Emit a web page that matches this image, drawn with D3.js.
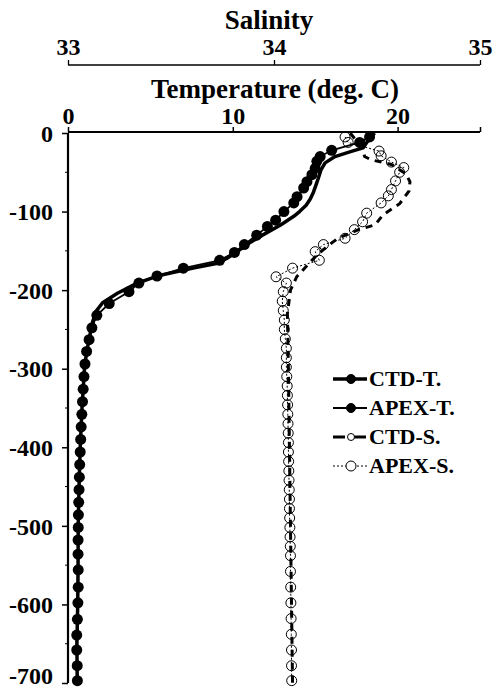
<!DOCTYPE html>
<html>
<head>
<meta charset="utf-8">
<script src="https://cdn.jsdelivr.net/npm/d3@7"></script>
<style>
  html, body { margin: 0; padding: 0; background: #fff; }
  svg text { font-family: "Liberation Serif", "Times New Roman", serif; font-weight: bold; fill: #000; }
</style>
</head>
<body>
<svg id="chart" width="494" height="690"></svg>
<script>
// CTD temperature profile (depth in m, temperature in deg C)
const ctdTDepth = [0, 3, 10, 19, 24, 30, 38, 47, 57, 66, 75, 84, 92, 100, 106, 117, 130, 140, 152, 160, 166, 172, 181, 191, 204, 216, 227, 240, 260, 280, 300, 350, 400, 450, 500, 550, 600, 650, 700];
const ctdT = [18.6, 18.5, 18.2, 17.9, 17.1, 16.2, 15.6, 15.35, 15.2, 15.05, 14.9, 14.7, 14.45, 14.05, 13.7, 12.9, 11.8, 11.0, 10.2, 9.6, 9.0, 7.6, 5.6, 4.2, 3.0, 2.1, 1.7, 1.5, 1.3, 1.12, 1.0, 0.85, 0.74, 0.67, 0.62, 0.61, 0.59, 0.54, 0.56];

// APEX float temperature samples
const apexTDepth = [5, 12, 22, 30, 36, 45, 53, 62, 70, 81, 89, 100, 111, 119, 130, 142, 152, 162, 172, 182, 191, 202, 217, 232, 248, 263, 278, 294, 310, 326, 342, 358, 374, 390, 406, 422, 438, 454, 470, 486, 502, 518, 536, 556, 578, 598, 619, 639, 658, 678, 697];
const apexT = [18.3, 17.7, 16.0, 15.3, 15.1, 15.0, 14.8, 14.5, 14.3, 13.9, 13.7, 13.1, 12.6, 12.1, 11.45, 10.7, 10.1, 9.2, 7.0, 5.4, 4.3, 3.7, 2.5, 1.75, 1.45, 1.28, 1.13, 1.03, 0.97, 0.92, 0.88, 0.84, 0.80, 0.77, 0.74, 0.71, 0.69, 0.67, 0.65, 0.63, 0.62, 0.61, 0.61, 0.62, 0.62, 0.60, 0.57, 0.53, 0.53, 0.56, 0.57];

// CTD salinity profile
const ctdSDepth = [0, 10, 20, 30, 34, 40, 52, 62, 74, 90, 104, 117, 123, 134, 145, 155, 166, 183, 200, 230, 300, 400, 500, 600, 700];
const ctdS = [34.37, 34.40, 34.43, 34.44, 34.47, 34.57, 34.64, 34.66, 34.655, 34.61, 34.53, 34.49, 34.41, 34.31, 34.255, 34.21, 34.17, 34.11, 34.08, 34.065, 34.07, 34.075, 34.08, 34.085, 34.09];

// APEX float salinity samples
const apexSDepth = [5, 12, 23, 29, 37, 44, 50, 61, 72, 80, 89, 102, 113, 123, 134, 142, 151, 162, 172, 183, 191, 202, 214, 226, 238, 250, 262, 274, 286, 298, 310, 322, 334, 346, 358, 370, 382, 394, 406, 418, 430, 442, 454, 466, 478, 490, 502, 514, 526, 538, 558, 578, 598, 618, 638, 658, 678, 697];
const apexS = [34.345, 34.36, 34.51, 34.52, 34.57, 34.63, 34.61, 34.59, 34.57, 34.555, 34.52, 34.45, 34.43, 34.39, 34.345, 34.24, 34.20, 34.22, 34.09, 34.01, 34.06, 34.045, 34.04, 34.045, 34.05, 34.05, 34.055, 34.06, 34.06, 34.06, 34.062, 34.064, 34.065, 34.066, 34.067, 34.068, 34.069, 34.07, 34.07, 34.071, 34.072, 34.073, 34.074, 34.075, 34.075, 34.076, 34.077, 34.078, 34.079, 34.08, 34.08, 34.081, 34.082, 34.083, 34.084, 34.085, 34.085, 34.086];

// Axis ticks
const depthTicks = [0, -100, -200, -300, -400, -500, -600, -700];
const depthMinorTicks = [-50, -150, -250, -350, -450, -550, -650];
const tempTicks = [0, 10, 20, 25];
const tempTickLabels = ["0", "10", "20", ""];
const salTicks = [33, 34, 35];
const salTickLabels = ["33", "34", "35"];

const legendLabels = ["CTD-T.", "APEX-T.", "CTD-S.", "APEX-S."];

const svg = d3.select("#chart");
const plotLeft = 68, plotRight = 480, plotTop = 133, plotBottom = 683;

const x = d3.scaleLinear().domain([0, 25]).range([plotLeft, plotRight]);
const xs = d3.scaleLinear().domain([33, 35]).range([plotLeft, plotRight]);
const y = d3.scaleLinear().domain([0, -700]).range([plotTop, plotBottom]);

// --- axes ---
const yAxis = svg.append("g").attr("transform", `translate(${plotLeft},0)`)
  .call(d3.axisLeft(y).tickValues(depthTicks).tickSize(6).tickPadding(9).tickFormat(d => String(d)));
yAxis.append("g").selectAll("line").data(depthMinorTicks).join("line")
  .attr("x1", -3).attr("x2", 0).attr("y1", d => y(d)).attr("y2", d => y(d))
  .attr("stroke", "#000").attr("stroke-width", 1);
// the bottom label sits against the lower edge, so it is nudged up a little
yAxis.selectAll(".tick text").style("font-size", "24px")
  .attr("dy", d => d === -700 ? "0.02em" : "0.34em");

const tAxis = svg.append("g").attr("transform", `translate(0,${plotTop - 1})`)
  .call(d3.axisTop(x).tickValues(tempTicks).tickSize(5).tickPadding(3)
    .tickFormat((d, i) => tempTickLabels[i]));
tAxis.selectAll("text").style("font-size", "24px");

const sAxis = svg.append("g").attr("transform", "translate(0,65)")
  .call(d3.axisTop(xs).tickValues(salTicks).tickSize(5).tickPadding(5)
    .tickFormat((d, i) => salTickLabels[i]));
sAxis.selectAll("text").style("font-size", "24px");

[yAxis, tAxis].forEach(g => {
  g.select(".domain").attr("stroke-width", 2.2);
  g.selectAll(".tick line").attr("stroke-width", 1.5);
});
sAxis.select(".domain").attr("stroke-width", 1.6);
sAxis.selectAll(".tick line").attr("stroke-width", 1.3);
// plain axis lines without end caps
yAxis.select(".domain").attr("d", `M0,${plotTop}V${plotBottom}`);
tAxis.select(".domain").attr("d", `M${plotLeft},0H${plotRight}`);
sAxis.select(".domain").attr("d", `M${plotLeft},0H${plotRight}`);

// axis titles
svg.append("text").attr("x", 269).attr("y", 29).attr("text-anchor", "middle")
  .style("font-size", "27px").text("Salinity");
svg.append("text").attr("x", 275).attr("y", 98).attr("text-anchor", "middle")
  .style("font-size", "27px").text("Temperature (deg. C)");

// --- series ---
const plot = svg.append("g");

const lineT = d3.line().x(d => x(d[1])).y(d => y(-d[0]));
const lineS = d3.line().x(d => xs(d[1])).y(d => y(-d[0]));

const ctdTPts = d3.zip(ctdTDepth, ctdT);
const apexTPts = d3.zip(apexTDepth, apexT);
const ctdSPts = d3.zip(ctdSDepth, ctdS);
const apexSPts = d3.zip(apexSDepth, apexS);

// CTD salinity: thick dashed line
plot.append("path").datum(ctdSPts).attr("d", lineS)
  .attr("fill", "none").attr("stroke", "#000").attr("stroke-width", 3)
  .attr("stroke-dasharray", "7,6");

// APEX salinity: thin dotted line with open circles
plot.append("path").datum(apexSPts).attr("d", lineS)
  .attr("fill", "none").attr("stroke", "#000").attr("stroke-width", 1)
  .attr("stroke-dasharray", "2,2");
plot.append("g").selectAll("circle").data(apexSPts).join("circle")
  .attr("cx", d => xs(d[1])).attr("cy", d => y(-d[0])).attr("r", 5)
  .attr("fill", "none").attr("stroke", "#000").attr("stroke-width", 1);

// CTD temperature: thick solid line
plot.append("path").datum(ctdTPts).attr("d", lineT)
  .attr("fill", "none").attr("stroke", "#000").attr("stroke-width", 3.5)
  .attr("stroke-linejoin", "round");

// APEX temperature: line with filled dots
plot.append("path").datum(apexTPts).attr("d", lineT)
  .attr("fill", "none").attr("stroke", "#000").attr("stroke-width", 1.8);
plot.append("g").selectAll("circle").data(apexTPts).join("circle")
  .attr("cx", d => x(d[1])).attr("cy", d => y(-d[0])).attr("r", 5.5)
  .attr("fill", "#000");

// --- legend ---
const legendStyles = [
  { w: 3.5, dash: null, fill: "#000", r: 4.5 },
  { w: 2, dash: null, fill: "#000", r: 4.5 },
  { w: 3, dash: "12,9", fill: "#fff", r: 3.5 },
  { w: 1, dash: "2,2", fill: "#fff", r: 5 }
];
const legend = svg.append("g").attr("transform", "translate(333,379)");
const rows = legend.selectAll("g").data(legendLabels).join("g")
  .attr("transform", (d, i) => `translate(0,${i * 29})`);
rows.append("line").attr("x1", 0).attr("x2", 34).attr("y1", 0).attr("y2", 0)
  .attr("stroke", "#000").attr("stroke-width", (d, i) => legendStyles[i].w)
  .attr("stroke-dasharray", (d, i) => legendStyles[i].dash);
rows.append("circle").attr("cx", 18).attr("cy", 0).attr("r", (d, i) => legendStyles[i].r)
  .attr("fill", (d, i) => legendStyles[i].fill).attr("stroke", "#000").attr("stroke-width", 1);
rows.append("text").attr("x", 36).attr("y", 7).style("font-size", "22px").text(d => d);
</script>
</body>
</html>
